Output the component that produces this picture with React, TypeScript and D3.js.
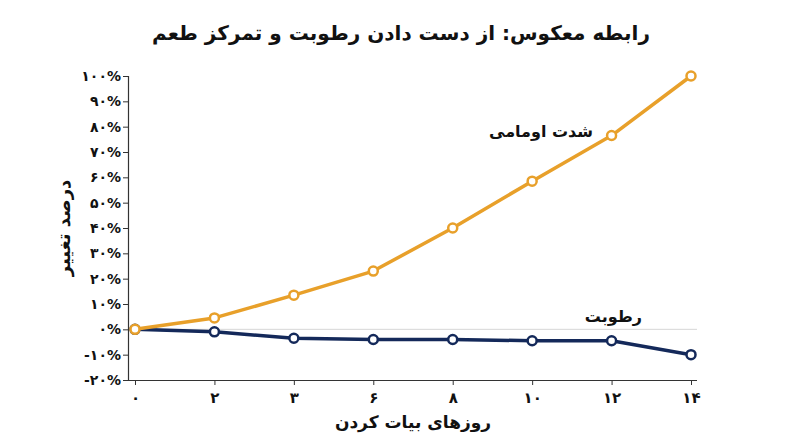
import React, { useEffect, useRef } from 'react';
import * as d3 from 'd3';

const days = ['۰', '۲', '۳', '۶', '۸', '۱۰', '۱۲', '۱۴'];
const umami = [0, 4.5, 13.5, 23, 40, 58.5, 76.5, 100];
const moisture = [0, -1, -3.5, -4, -4, -4.5, -4.5, -10];
const yTicks = [-20, -10, 0, 10, 20, 30, 40, 50, 60, 70, 80, 90, 100];

const toFa = (n: number): string =>
  String(n).replace(/\d/g, d => '۰۱۲۳۴۵۶۷۸۹'[+d]);

const FONT = '"DejaVu Sans", "Noto Sans", sans-serif';

export default function App() {
  const ref = useRef<SVGSVGElement>(null);

  useEffect(() => {
    const svg = d3.select(ref.current);
    svg.selectAll('*').remove();

    const x = d3.scalePoint<string>().domain(days).range([135, 691]);
    const y = d3.scaleLinear().domain([-20, 100]).range([380, 76]);

    svg.append('rect').attr('width', 800).attr('height', 447).attr('fill', '#fff');

    // title
    svg.append('text')
      .attr('x', 401).attr('y', 40)
      .attr('text-anchor', 'middle')
      .attr('direction', 'rtl')
      .style('font-family', FONT).style('font-weight', 700).style('font-size', '20px')
      .attr('fill', '#111')
      .text('رابطه معکوس: از دست دادن رطوبت و تمرکز طعم');

    // zero line
    svg.append('line')
      .attr('x1', 128).attr('x2', 697)
      .attr('y1', y(0)).attr('y2', y(0))
      .attr('stroke', '#d6d6d6').attr('stroke-width', 1);

    const yAxis = svg.append('g')
      .attr('transform', 'translate(128,0)')
      .call(d3.axisLeft(y).tickValues(yTicks).tickSize(5).tickFormat(d => `${toFa(d as number)}%`));
    yAxis.select('.domain').attr('stroke', '#333').attr('stroke-width', 1.2);
    yAxis.selectAll('.tick line').attr('stroke', '#333');
    yAxis.selectAll('.tick text')
      .style('font-family', FONT).style('font-size', '14px').style('font-weight', 700)
      .attr('fill', '#111').attr('x', -7);

    const xAxis = svg.append('g')
      .attr('transform', 'translate(0,380)')
      .call(d3.axisBottom(x).tickSize(5).tickSizeOuter(0));
    xAxis.select('.domain').attr('d', 'M128,0.5H697').attr('stroke', '#333').attr('stroke-width', 1.2);
    xAxis.selectAll('.tick line').attr('stroke', '#333');
    xAxis.selectAll('.tick text')
      .style('font-family', FONT).style('font-size', '15px').style('font-weight', 700)
      .attr('fill', '#111').attr('y', 12);

    // axis titles
    svg.append('text')
      .attr('transform', 'translate(70,228) rotate(-90)')
      .attr('text-anchor', 'middle')
      .style('font-family', FONT).style('font-weight', 700).style('font-size', '18px')
      .attr('fill', '#111')
      .text('درصد تغییر');
    svg.append('text')
      .attr('x', 413).attr('y', 428)
      .attr('text-anchor', 'middle')
      .style('font-family', FONT).style('font-weight', 700).style('font-size', '17px')
      .attr('fill', '#111')
      .text('روزهای بیات کردن');

    const series = [
      { values: moisture, color: '#14295a' },
      { values: umami, color: '#e8a02a' },
    ];
    const line = d3.line<number>()
      .x((_, i) => x(days[i]) as number)
      .y(d => y(d));

    series.forEach(s => {
      svg.append('path')
        .attr('d', line(s.values))
        .attr('fill', 'none')
        .attr('stroke', s.color)
        .attr('stroke-width', 3.5)
        .attr('stroke-linejoin', 'round');
      svg.append('g').selectAll('circle')
        .data(s.values)
        .enter().append('circle')
        .attr('cx', (_, i) => x(days[i]) as number)
        .attr('cy', d => y(d))
        .attr('r', 4.5)
        .attr('fill', '#fff')
        .attr('stroke', s.color)
        .attr('stroke-width', 2.5);
    });

    // series labels
    svg.append('text')
      .attr('x', 593).attr('y', 137)
      .attr('text-anchor', 'end')
      .style('font-family', FONT).style('font-weight', 700).style('font-size', '16px')
      .attr('fill', '#111')
      .text('شدت اومامی');
    svg.append('text')
      .attr('x', 642).attr('y', 322)
      .attr('text-anchor', 'end')
      .style('font-family', FONT).style('font-weight', 700).style('font-size', '16px')
      .attr('fill', '#111')
      .text('رطوبت');
  }, []);

  return <svg ref={ref} width={800} height={447} style={{ display: 'block', margin: -8 }} />;
}
